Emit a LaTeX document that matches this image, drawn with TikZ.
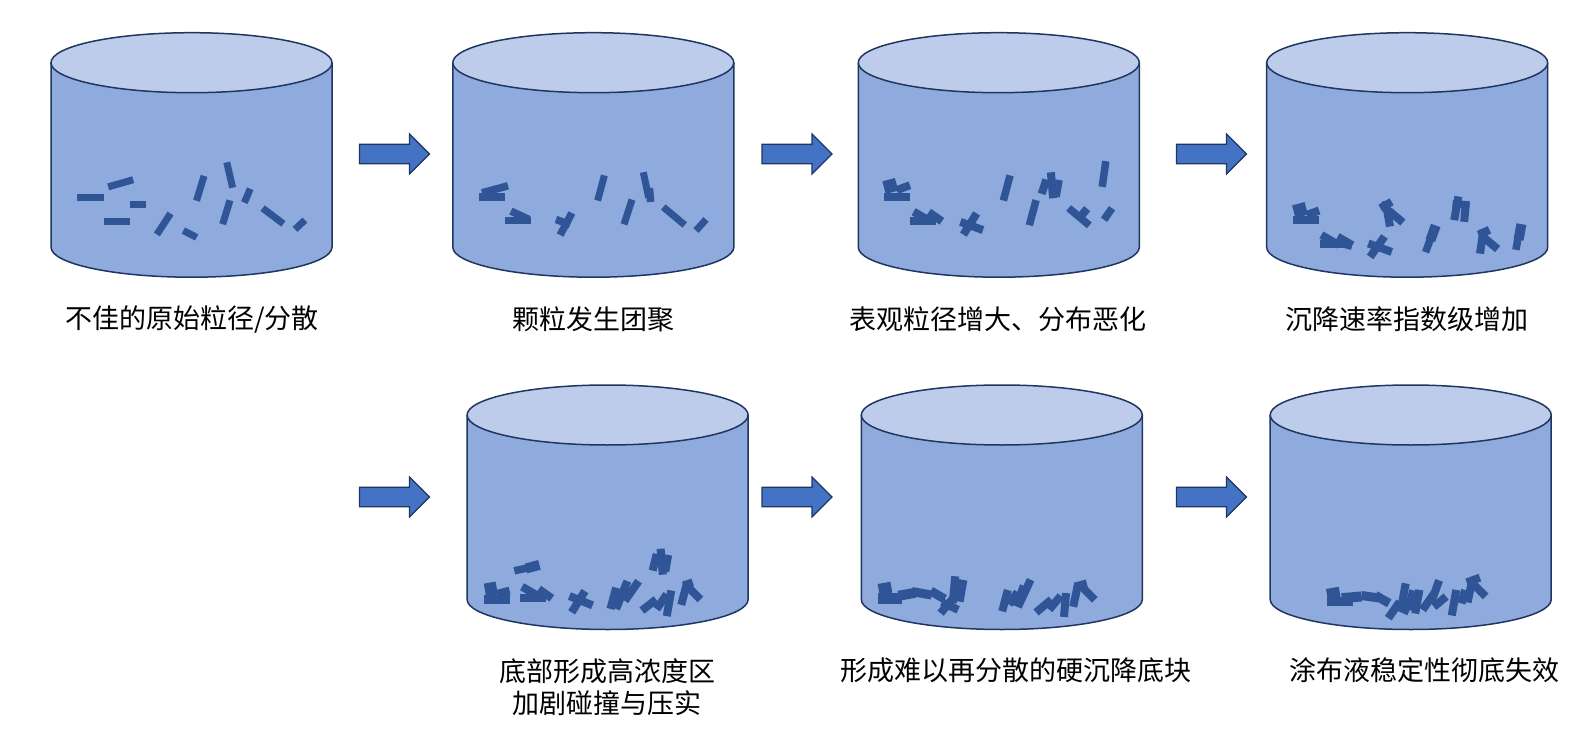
\documentclass[tikz,border=0pt]{standalone}
\usepackage{fontspec}
\newfontfamily\cjk{Noto Sans CJK SC}
\definecolor{tanktop}{HTML}{BDCCEA}
\definecolor{tankbody}{HTML}{8FAADC}
\definecolor{tankline}{HTML}{1F3660}
\definecolor{grainc}{HTML}{2F5597}
\definecolor{arrowc}{HTML}{4472C4}
\begin{document}
\begin{tikzpicture}[x=1pt,y=-1pt,
  body/.style={fill=tankbody,draw=tankline,line width=1.5pt},
  lid/.style={fill=tanktop,draw=tankline,line width=1.5pt},
  grain/.style={fill=grainc},
  flow/.style={fill=arrowc,draw=tankline,line width=1.2pt},
  lbl/.style={font=\cjk\fontsize{27}{32.5}\selectfont,align=center,inner sep=0pt}]
\useasboundingbox (0,0) rectangle (1593,738);
% tanks
\foreach \cx/\cy in {191.5/62.7,593.3/62.7,998.8/62.7,1407.2/62.7,607.6/415,1001.8/415,1410.7/415}{
  \draw[body] (\cx-140.5,\cy) -- (\cx-140.5,\cy+184.5)
    arc[start angle=180,end angle=0,x radius=140.5,y radius=30] -- (\cx+140.5,\cy);
  \draw[lid] (\cx,\cy) ellipse[x radius=140.5,y radius=30];
}
% grains, tank 1
\foreach \x/\y/\a/\l/\w in {90.3/197.3/0/27/7,120.7/183.3/16/26/7,138/204.3/0/16/7,117/221.3/0/26/7,
  163.7/224/57/25/7,190/234/-27/15/7,200.3/188.3/73/26/7,229.7/175/-77/26/7,247.3/195.7/67/15/7,
  226.3/212.3/73/25/7,273/216/-37/26/7,300/224.7/43/13.5/7}
  \fill[grain,shift={(\x,\y)},rotate=\a] (-\l/2,-\w/2) rectangle (\l/2,\w/2);
% tank 2
\foreach \x/\y/\a/\l/\w in {492/197/0/26/7.5,495/189.3/15/27/7.5,518/221/0/26/7,520/215.3/-25/20/7.5,
  566/224/62/25/7.5,563/222/-20/15/7.5,601/188/75/26/7,628/212/72/26/7,646/185/102/26/7,
  650/195/95/14/7.5,674/216/-40/28/7,701/225/48/15/7}
  \fill[grain,shift={(\x,\y)},rotate=\a] (-\l/2,-\w/2) rectangle (\l/2,\w/2);
% tank 3
\foreach \x/\y/\a/\l/\w in {897/197/0/26/8,890.3/186/15/13/13,903.3/187.7/20/14/8,923.3/221/0/26/7.5,
  922.3/216.7/-30/20/8,935.3/216.7/-35/16/8,970/224/58/25/8,971.7/226/-20/24/8,1006.7/188/75/26/7.5,
  1032.7/212.7/75/26/7.5,1044/186.7/72/15/8,1052/185.3/95/26/8,1057.3/188.3/80/17/8,1079/216.7/-40/27/7.5,
  1083.3/213.3/50/12/8,1104/174/82/26/7.5,1108/214/55/14/7.5}
  \fill[grain,shift={(\x,\y)},rotate=\a] (-\l/2,-\w/2) rectangle (\l/2,\w/2);
% tank 4
\foreach \x/\y/\a/\l/\w in {1306.3/220.3/0/26/8,1300/210/15/13/13,1313/212.7/20/13/8,1333/244.3/0/26/8,
  1330/240/-30/20/8,1345/241/-30/17/8,1345.7/244.3/-15/13/8,1377.3/246.7/55/25/8,1380/247.7/-20/25/8,
  1387.7/213.7/100/26/8,1396/216.7/-40/18/8,1386/205/30/13/8,1433/233/70/16/10,1430/240/70/26/7.5,
  1456.3/208.3/80/24/8,1465/212.3/85/19/8,1461/204.3/-5/17/7.5,1481.7/241.7/82/24/8,1490.7/243.3/-40/18/8,
  1484/232.3/25/12/8,1518/238/80/24/7.5,1520/232/80/16/10}
  \fill[grain,shift={(\x,\y)},rotate=\a] (-\l/2,-\w/2) rectangle (\l/2,\w/2);
% tank 5
\foreach \x/\y/\a/\l/\w in {497/599/0/26/9,490.8/589/10/12/13,503.3/592.3/15/13/8,526/568.3/12/24/7.5,
  532.7/566.7/15/14/10,533.3/597.7/0/26/8,530.7/591.7/-30/20/8,545.3/593.7/-35/16/8,578.3/601.7/58/25/8,
  581/600.7/-22/25/8,613.3/598.3/75/22/8,621.7/595/68/30/8,631.7/591/55/24/8,654.7/562.3/76/17/8,
  661.7/561.7/95/26/8,666.7/563.3/80/17/8,649/605/38/18/8,669/603.3/80/26/8,661.7/601.7/55/18/8,
  684.3/593.3/75/24/8,693.3/592.3/-45/20/8,688/584/20/10/8}
  \fill[grain,shift={(\x,\y)},rotate=\a] (-\l/2,-\w/2) rectangle (\l/2,\w/2);
% tank 6
\foreach \x/\y/\a/\l/\w in {889.7/598.7/0/24/11,885/588.3/10/13/11,906.7/594.3/10/17/10,921.7/593.3/-10/20/9,
  937.7/595/-30/16/9,954/589.7/85/27/8,961/590.7/80/22/9,948.3/604/50/24/8,950/606/-25/18/8,
  1005/600.7/75/22/8,1024.3/593.3/65/30/8,1013.3/598.3/55/15/8,1020/596/70/22/8,1043.7/606/40/20/8,1055/602.7/50/18/8,
  1065/605/85/24/8,1075.7/595/78/24/8,1087.7/592.7/-45/20/8,1081/585/15/12/8}
  \fill[grain,shift={(\x,\y)},rotate=\a] (-\l/2,-\w/2) rectangle (\l/2,\w/2);
% tank 7
\foreach \x/\y/\a/\l/\w in {1340/601.7/0/26/9,1333.3/593.3/10/13/11,1351.7/597.3/5/20/10,1370/596.7/-8/17/9,
  1382.3/599.3/-30/16/9,1403.3/596.7/80/27/8,1394/610/55/20/8,1410.7/600/75/20/8,1401.7/608.3/-25/16/8,
  1417.3/601.7/80/24/8,1435/591.7/70/24/8,1428.3/601.7/55/20/8,1440/601.7/40/16/8,1454/602.7/80/26/8,
  1463.3/596.7/75/14/8,1470/590.7/78/24/8,1480/590.7/-45/16/8,1473.3/580/20/14/8}
  \fill[grain,shift={(\x,\y)},rotate=\a] (-\l/2,-\w/2) rectangle (\l/2,\w/2);
% arrows
\foreach \ax/\ay in {359.5/154,762/154,1176.5/154,359.5/497,762/497,1176.5/497}
  \draw[flow] (\ax,\ay-9.7) -- (\ax+50,\ay-9.7) -- (\ax+50,\ay-20) -- (\ax+70,\ay)
    -- (\ax+50,\ay+20) -- (\ax+50,\ay+9.7) -- (\ax,\ay+9.7) -- cycle;
% labels
\node[lbl] (cap1) at (192,319.5) {不佳的原始粒径/分散};
\node[lbl] (cap2) at (593,319.5) {颗粒发生团聚};
\node[lbl] (cap3) at (998,319.5) {表观粒径增大、分布恶化};
\node[lbl] (cap4) at (1407,319.5) {沉降速率指数级增加};
\node[lbl] (cap5) at (607,687) {底部形成高浓度区\\加剧碰撞与压实};
\node[lbl] (cap6) at (1016,670.6) {形成难以再分散的硬沉降底块};
\node[lbl] (cap7) at (1424,670.6) {涂布液稳定性彻底失效};
\end{tikzpicture}
\end{document}
